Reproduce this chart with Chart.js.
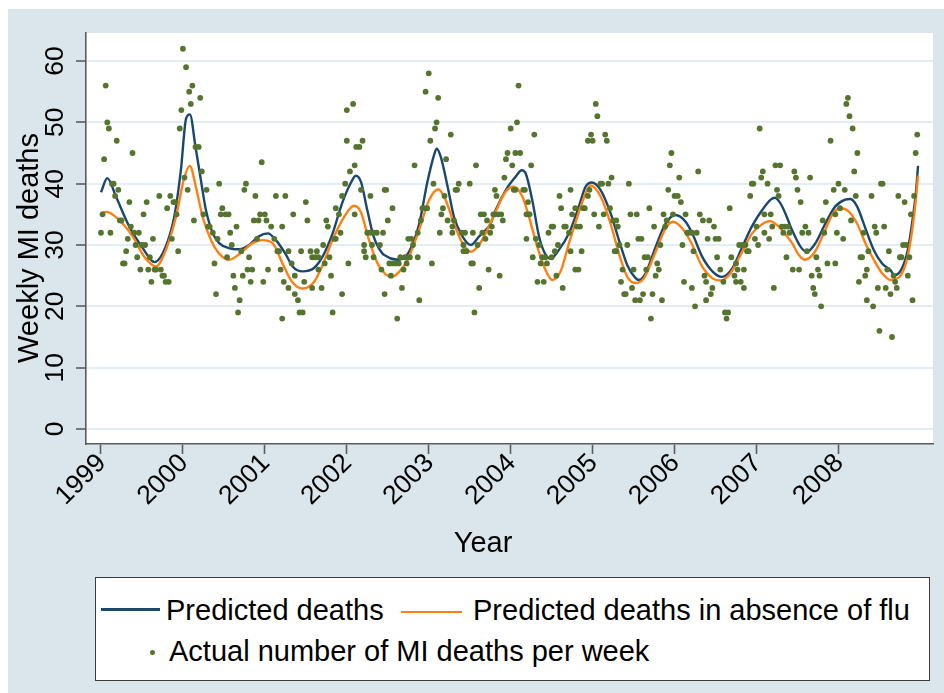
<!DOCTYPE html>
<html>
<head>
<meta charset="utf-8">
<title>Weekly MI deaths</title>
<script src="https://cdn.jsdelivr.net/npm/chart.js@4.4.1/dist/chart.umd.min.js"></script>
<style>
  html, body { margin: 0; padding: 0; background: #ffffff; }
  #wrap { position: relative; width: 944px; height: 693px; overflow: hidden; }
  #chart { position: absolute; left: 0; top: 0; }
  #legendBox { position: absolute; box-sizing: border-box; background: #ffffff; border: 1px solid #3c3c3c; }
  .lg-text { position: absolute; font-family: "Liberation Sans", Arial, sans-serif; font-size: 29px; line-height: 1; color: #000; white-space: nowrap; }
  .lg-line { position: absolute; height: 2.5px; }
  .lg-dot { position: absolute; width: 5.5px; height: 5.5px; border-radius: 50%; }
</style>
</head>
<body>
<div id="wrap">
  <canvas id="chart" width="944" height="693"></canvas>
  <div id="legendBox"></div>
</div>
<script>
// ---- Data -------------------------------------------------------------
// x values are weeks counted from the first week of 1999 (52 weeks per year)
const yearLabels = ['1999', '2000', '2001', '2002', '2003', '2004', '2005', '2006', '2007', '2008'];
const weeksPerYear = 52;
const yTickValues = [0, 10, 20, 30, 40, 50, 60];
const xTitle = 'Year';
const yTitle = 'Weekly MI deaths';
const seriesNames = ['Predicted deaths', 'Predicted deaths in absence of flu', 'Actual number of MI deaths per week'];

// observed weekly MI deaths
const weekIndex = [
  0,1,2,3,4,5,6,7,8,9,10,11,12,13,14,15,16,17,18,19,20,21,22,23,24,25,26,27,28,29,30,31,32,33,34,35,37,38,39,40,41,42,43,44,45,46,47,48,49,50,51,
  52,53,54,55,56,57,58,59,60,62,63,64,65,67,68,69,71,72,73,74,75,76,77,79,80,81,82,83,84,85,86,87,88,89,90,91,92,93,94,95,96,97,98,99,100,101,102,103,
  104,105,106,108,110,111,112,113,114,115,115,116,117,119,119,121,122,123,123,125,126,127,128,129,130,131,133,134,134,136,137,138,138,140,141,142,143,144,145,146,147,148,149,149,151,152,153,153,155,
  156,156,157,158,160,161,161,162,164,165,166,167,167,168,169,171,171,172,173,173,175,177,178,179,180,180,181,182,183,184,185,185,187,188,189,190,191,192,193,194,195,195,196,197,198,199,201,201,202,203,204,205,206,207,
  208,209,210,211,212,213,214,215,216,217,218,219,220,222,223,223,224,225,226,227,229,230,230,231,232,234,235,236,236,237,238,239,240,241,242,243,244,245,246,247,248,249,250,250,251,252,253,254,255,256,257,258,
  260,261,262,263,263,264,265,266,268,269,270,270,271,271,272,273,274,275,276,277,278,279,280,281,282,283,284,286,286,287,288,289,290,291,292,293,294,295,297,298,298,299,301,301,302,303,304,305,306,307,309,309,310,311,
  312,313,314,315,316,317,318,319,320,321,322,323,324,325,326,327,327,328,329,330,331,332,333,334,335,336,337,338,339,340,341,342,343,344,345,346,347,348,349,350,351,352,353,354,355,356,357,358,359,360,361,362,363,
  364,366,367,368,369,370,371,372,373,375,375,376,377,378,379,380,382,383,384,384,385,386,387,388,389,390,391,392,393,395,396,397,398,399,400,402,403,403,404,405,406,407,408,408,409,410,411,412,413,414,415,
  416,417,418,419,420,421,421,423,424,425,426,427,428,429,430,431,432,433,434,435,436,437,439,440,441,442,443,444,445,447,448,449,450,451,452,453,454,455,456,457,458,459,460,461,463,465,466,466,467,
  468,469,471,472,473,474,475,476,477,478,479,480,481,482,483,484,485,486,486,487,489,490,491,492,493,494,495,496,497,498,499,500,501,502,503,504,505,506,507,508,509,510,511,512,513,514,515,516,517,518
];
const miDeaths = [
  32,35,44,56,50,49,32,40,40,38,47,39,34,34,27,27,29,31,37,33,45,32,30,28,32,26,30,35,30,37,26,28,24,31,26,26,38,26,25,25,24,36,24,38,31,37,37,35,29,49,52,
  62,41,59,39,55,53,56,34,46,46,54,42,35,39,33,33,32,27,22,31,40,35,36,35,28,35,32,30,25,23,33,19,21,29,25,39,40,26,28,24,26,34,38,31,34,35,43.5,24,
  35,34,26,33,31,38,29,29,26,33,18,24,38,23,29,27,35,25,22,21,19,29,19,24,37,34,29,28,23,28,29,28,26,23,30,27,34,33,28,25,19,31,31,36,35,32,38,22,40,
  52,47,27,42,53,43,35,46,46,39,47,30,29,28,32,38,32,30,32,28,32,30,26,32,39,22,39,34,27,25,36,27,27,18,27,28,23,26,28,27,31,28,28,31,30,43,32,28,21,34,36,36,55,36,
  58,47,27,40,49,50,54,32,35,36,38,44,34,48,33,32,34,39,39,40,32,30,29,32,29,40,27,27,32,19,43,30,23,35,32,35,31,34,26,32,33,35,35,39,38,35,25,35,34,41,44,45,
  49,43,39,45,39,50,56,45,39,39,35,31,35,37,35,43,28,48,31,24,30,27,28,24,28,27,32,33,28,33,29,25,30,38,36,23,33,33,32,39,29,35,36,26,33,26,33,29,36,36,47,38,39,48,
  47,35,53,51,33,40,40,35,48,47,40,36,41,34,29,34,29,33,30,24,26,22,22,30,40,35,23,26,21,35,31,21,31,22,28,26,28,36,18,22,33,25,27,26,30,21,35,33,34,39,43,45,35,
  38,38,41,37,30,24,35,32,32,32,23,29,20,32,42,35,34,25,24,21,31,34,22,23,33,31,28,31,26,24,19,18,19,36,28,25,27,24,26,30,24,30,26,23,30,29,29,38,40,40,31,
  33,30,49,41,42,35,32,40,31,35,33,23,43,39,38,43,33,32,33,28,33,32,26,42,41,39,26,37,32,33,29,32,41,25,23,22,28,26,25,20,34,32,37,27,47,39,35,27,32,
  40,36,31,39,53,54,51,34,49,42,38,45,24,28,28,32,25,26,21,29,38,20,33,32,23,16,40,40,33,23,26,29,22,15,25,24,23,38,28,28,30,37,30,25,28,35,21,38,45,48
];

// model fit: predicted deaths
const predictedWeeks = [
  0, 4, 9.5, 18, 26, 34, 41, 46.5, 50.7, 54, 56.4, 60, 63.4, 66.6, 71, 75, 81, 88, 94, 100, 106, 111, 117,
  121.6, 128, 135, 140.6, 147, 153, 158.5, 161.7, 165, 169, 173, 178.6, 181, 184, 189, 195.5, 202, 207, 211.4,
  213.1, 215.6, 220, 224, 229.4, 234.6, 240, 244, 247.3, 250.5, 257, 263, 267, 269.5, 273.7, 278, 282.2, 285.4,
  290.6, 297, 303.3, 307.5, 311.5, 317, 323.4, 328.7, 334, 339.3, 341.4, 345.6, 352, 358.3, 364.6, 371, 375.2,
  381.5, 388, 394, 400.6, 407, 413, 419.6, 425, 427.6, 431.2, 434.4, 438.6, 444, 448, 453.4, 459.7, 466, 472.4,
  475.6, 479.8, 485, 490.4, 495.7, 501, 503.5, 507.7, 512, 515, 517.3, 518.5
];
const predictedDeaths = [
  38.6, 40.9, 37.9, 33.0, 29.7, 27.2, 29.7, 34.6, 42.2, 50.6, 51.3, 46.0, 40.6, 35.7, 31.9, 30.3, 29.5, 29.3, 30.0, 31.4, 31.9, 30.8, 28.6,
  26.5, 25.7, 26.2, 28.1, 31.9, 36.8, 40.1, 41.3, 40.3, 35.7, 31.4, 28.6, 28.2, 27.8, 27.6, 28.9, 33.5, 40.1, 44.7,
  45.7, 44.4, 39.5, 34.6, 31.4, 30.0, 31.4, 32.4, 33.5, 35.7, 39.0, 41.1, 42.2, 41.7, 37.3, 31.4, 28.4, 27.8,
  29.2, 31.9, 36.3, 39.5, 40.2, 39.0, 35.2, 30.8, 26.7, 24.6, 24.3, 25.4, 29.7, 33.5, 34.9, 33.8, 31.9,
  28.1, 25.7, 24.8, 26.2, 29.7, 33.0, 35.7, 37.4, 37.7, 36.8, 35.1, 32.4, 29.7, 28.9, 30.3, 33.5, 36.3, 37.4,
  37.5, 36.3, 32.8, 29.2, 27.0, 25.9, 25.1, 25.9, 29.2, 34.1, 39.0, 42.9
];

// model fit: predicted deaths with the influenza term removed
const noFluWeeks = [
  0, 3.6, 11.4, 20.1, 27.5, 34.9, 41.2, 47.6, 52.8, 56.4, 60.2, 64.5, 69.8, 75, 81.4, 87.7, 96.2, 102.5, 108.9, 115.2,
  121, 127.9, 135.3, 140.6, 146.9, 154.3, 160.6, 164.9, 170.1, 175.5, 180.7, 184.5, 190.2, 195.5, 201.8, 208.2, 214.1,
  218.8, 224, 229.4, 234.6, 239.9, 244.1, 250.5, 256.8, 262.1, 267.4, 271.6, 276.9, 282.2, 286.4, 291.7, 297, 302.3,
  307.5, 310.7, 317.1, 323.4, 328.7, 334, 339.3, 344.6, 352, 358.3, 363, 368.9, 374.5, 381.5, 387.9, 393.2, 399.5,
  406.9, 413.2, 419.6, 424.4, 430.1, 434.4, 438.6, 442.8, 446.6, 452.3, 458.7, 464, 469.2, 474.5, 479.8, 485.1,
  490.4, 495.7, 501.3, 503.5, 507.7, 511.9, 515.1, 517.3, 518.5
];
const noFluDeaths = [
  35.2, 35.4, 34.1, 31.4, 28.1, 26.5, 29.2, 34.6, 40.9, 42.9, 39.5, 34.6, 30.8, 28.6, 27.6, 28.5, 30.3, 30.8, 30.3, 27.0,
  24.1, 22.9, 24.0, 26.7, 30.8, 34.6, 36.4, 35.4, 30.8, 27.0, 25.2, 24.8, 25.9, 28.1, 32.4, 37.3, 39.1,
  37.3, 33.5, 30.3, 28.9, 30.0, 31.9, 35.5, 38.7, 39.5, 37.9, 34.6, 29.7, 25.9, 24.3, 25.7, 30.3, 34.6,
  38.4, 39.7, 37.9, 33.5, 28.6, 24.8, 23.8, 24.6, 28.9, 32.7, 33.8, 32.7, 30.4, 26.5, 24.6, 24.2, 25.4,
  28.9, 31.9, 33.4, 33.9, 33.0, 31.7, 30.3, 28.4, 27.6, 28.6, 31.9, 34.9, 36.0, 35.5, 33.5, 30.3,
  27.6, 25.4, 24.3, 24.4, 25.1, 28.1, 33.0, 37.9, 41.3
];

// ---- Styling -----------------------------------------------------------
const FONT = '"Liberation Sans", Arial, sans-serif';
const REGION_BG = '#dae6ec';
const GRID = '#e4eef2';
const AXIS = '#5c5c5c';
const NAVY = '#1a476f';
const ORANGE = '#ff8010';
const GREEN = '#55752f';

const toPoints = (xs, ys) => xs.map((x, i) => ({ x: x, y: ys[i] }));

// outer region and white plot area
const backdrop = {
  id: 'backdrop',
  beforeDraw(chart) {
    const { ctx, chartArea: a } = chart;
    ctx.save();
    ctx.fillStyle = '#ffffff';
    ctx.fillRect(0, 0, chart.width, chart.height);
    ctx.fillStyle = REGION_BG;
    ctx.fillRect(8, 9, chart.width - 8, chart.height - 9);
    ctx.fillStyle = '#ffffff';
    ctx.fillRect(a.left, a.top, a.right - a.left, a.bottom - a.top);
    ctx.restore();
  }
};

// tick labels (vertical on y, 45 degrees on x) and the two axis titles
const axisText = {
  id: 'axisText',
  afterDraw(chart) {
    const { ctx, scales, chartArea: a } = chart;
    const xs = scales.x, ys = scales.y;
    ctx.save();
    ctx.fillStyle = '#000000';
    ctx.font = '26.5px ' + FONT;
    ys.ticks.forEach(t => {
      const py = ys.getPixelForValue(t.value);
      ctx.save();
      ctx.translate(ys.right - 30, py);
      ctx.rotate(-Math.PI / 2);
      ctx.textAlign = 'center';
      ctx.textBaseline = 'middle';
      ctx.fillText(String(t.value), 0, 0);
      ctx.restore();
    });
    xs.ticks.forEach((t, i) => {
      const px = xs.getPixelForValue(t.value);
      ctx.save();
      ctx.translate(px + 1, xs.top + 15);
      ctx.rotate(-Math.PI / 4);
      ctx.textAlign = 'right';
      ctx.textBaseline = 'middle';
      ctx.fillText(yearLabels[i], 0, 0);
      ctx.restore();
    });

    ctx.font = '29px ' + FONT;
    ctx.textAlign = 'center';
    ctx.textBaseline = 'middle';
    ctx.fillText(xTitle, (a.left + a.right) / 2 - 26.5, xs.top + 100);
    ctx.save();
    ctx.translate(ys.left + 14.5, (a.top + a.bottom) / 2 + 9.5);
    ctx.rotate(-Math.PI / 2);
    ctx.fillText(yTitle, 0, 0);
    ctx.restore();
    ctx.restore();
  }
};

const chart = new Chart(document.getElementById('chart'), {
  type: 'scatter',
  data: {
    datasets: [
      {
        type: 'line', label: seriesNames[0], data: toPoints(predictedWeeks, predictedDeaths),
        borderColor: NAVY, borderWidth: 2.4, pointRadius: 0, fill: false,
        cubicInterpolationMode: 'monotone', order: 3
      },
      {
        type: 'line', label: seriesNames[1], data: toPoints(noFluWeeks, noFluDeaths),
        borderColor: ORANGE, borderWidth: 2.4, pointRadius: 0, fill: false,
        cubicInterpolationMode: 'monotone', order: 2
      },
      {
        type: 'scatter', label: seriesNames[2], data: toPoints(weekIndex, miDeaths),
        pointRadius: 2.9, pointBackgroundColor: GREEN, pointBorderWidth: 0, order: 1
      }
    ]
  },
  options: {
    responsive: false,
    animation: false,
    devicePixelRatio: 1,
    layout: { padding: { left: 15.5, top: 33, right: 11, bottom: 134.5 } },
    plugins: { legend: { display: false }, tooltip: { enabled: false } },
    scales: {
      x: {
        type: 'linear', bounds: 'data', min: -9.5, max: 528,
        afterBuildTicks: s => { s.ticks = yearLabels.map((_, i) => ({ value: i * weeksPerYear })); },
        afterFit: s => { s.height = 114.5; },
        ticks: { display: false },
        grid: { display: true, drawOnChartArea: false, drawTicks: true, tickLength: 10, tickColor: AXIS, tickWidth: 1.6 },
        border: { display: true, color: AXIS, width: 1.6 },
        title: { display: false }
      },
      y: {
        type: 'linear', bounds: 'data', min: -2.45, max: 64.57,
        afterBuildTicks: s => { s.ticks = yTickValues.map(v => ({ value: v })); },
        afterFit: s => { s.width = 70.5; },
        ticks: { display: false },
        grid: { color: GRID, lineWidth: 2, drawTicks: true, tickLength: 10, tickColor: AXIS, tickWidth: 1.6 },
        border: { display: true, color: AXIS, width: 1.6 },
        title: { display: false }
      }
    }
  },
  plugins: [backdrop, axisText]
});

// ---- Legend (boxed, two rows) -------------------------------------------
const legendBox = document.getElementById('legendBox');
Object.assign(legendBox.style, { left: '95px', top: '577px', width: '835px', height: '104px' });
const wrap = document.getElementById('wrap');
const legendItems = [
  { kind: 'line', color: NAVY, sx: 101, sy: 608, sw: 59, tx: 166, ty: 596 },
  { kind: 'line', color: ORANGE, sx: 401, sy: 610.5, sw: 61, tx: 473, ty: 596 },
  { kind: 'dot', color: GREEN, sx: 149.5, sy: 649.5, sw: 0, tx: 169, ty: 637 }
];
legendItems.forEach((it, i) => {
  const sw = document.createElement('div');
  sw.className = it.kind === 'line' ? 'lg-line' : 'lg-dot';
  sw.style.background = it.color;
  sw.style.left = it.sx + 'px';
  sw.style.top = it.sy + 'px';
  if (it.kind === 'line') sw.style.width = it.sw + 'px';
  wrap.appendChild(sw);
  const tx = document.createElement('div');
  tx.className = 'lg-text';
  tx.textContent = seriesNames[i];
  tx.style.left = it.tx + 'px';
  tx.style.top = it.ty + 'px';
  wrap.appendChild(tx);
});
</script>
</body>
</html>
